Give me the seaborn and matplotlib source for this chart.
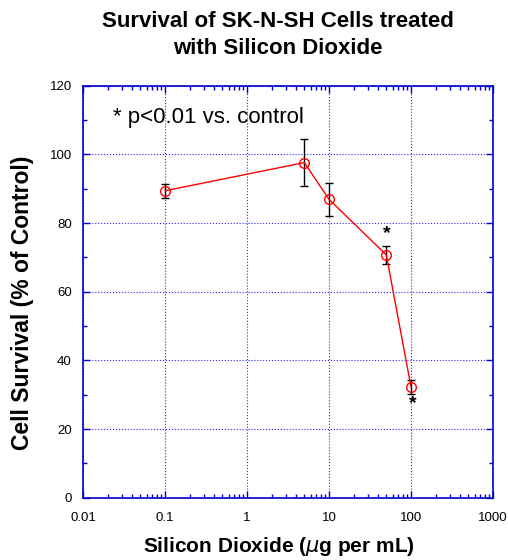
import pandas as pd
import numpy as np
import matplotlib
matplotlib.use('Agg')
import matplotlib.pyplot as plt
import seaborn as sns
from matplotlib.ticker import LogLocator, MultipleLocator, NullFormatter, FixedFormatter, FixedLocator

# 数据
dose = [0.1, 5, 10, 50, 100]
survival = [89.4, 97.6, 86.9, 70.7, 32.3]
err = [2.0, 6.9, 4.8, 2.6, 2.0]
x_ticks = [0.01, 0.1, 1, 10, 100, 1000]
x_tick_labels = ['0.01', '0.1', '1', '10', '100', '1000']

df = pd.DataFrame({'dose': dose, 'survival': survival, 'err': err})

sns.set_style('white')
plt.rcParams['font.family'] = ['Liberation Sans', 'DejaVu Sans']
plt.rcParams['text.color'] = 'black'
plt.rcParams['axes.labelcolor'] = 'black'

fig = plt.figure(figsize=(5.08, 5.6), dpi=100)
ax = fig.add_axes([83 / 508, 1 - 497.7 / 560, 410 / 508, 412 / 560])

blue = '#0000cc'
grid_blue = '#2a2aff'

# 误差线
ax.errorbar(df['dose'], df['survival'], yerr=df['err'], fmt='none',
            ecolor='black', elinewidth=1, capsize=3, capthick=1, zorder=2)
# 折线 + 空心圆点
sns.lineplot(data=df, x='dose', y='survival', ax=ax, color='red', lw=1,
             marker='o', markersize=7, markerfacecolor='none',
             markeredgecolor='red', markeredgewidth=1, zorder=3)

ax.set_xscale('log')
ax.set_xlim(0.01, 1000)
ax.set_ylim(0, 120)

ax.xaxis.set_major_locator(FixedLocator(x_ticks))
ax.xaxis.set_major_formatter(FixedFormatter(x_tick_labels))
ax.xaxis.set_minor_locator(LogLocator(base=10, subs=np.arange(2, 10)))
ax.xaxis.set_minor_formatter(NullFormatter())
ax.yaxis.set_major_locator(MultipleLocator(20))
ax.yaxis.set_minor_locator(MultipleLocator(10))

ax.grid(True, which='major', color=grid_blue, linestyle=':', linewidth=0.8)
ax.xaxis.grid(False, which='minor')
for s in ax.spines.values():
    s.set_color(blue)
    s.set_linewidth(1.2)
ax.tick_params(which='both', direction='in', color=blue, top=True, right=True,
               bottom=True, left=True, labelsize=9.5, labelcolor='black')
ax.tick_params(axis='x', pad=10)
ax.tick_params(axis='y', pad=8)
ax.tick_params(which='major', length=5, width=1)
ax.tick_params(which='minor', length=3, width=1)

# 显著性标记
ax.text(50, 77, '*', ha='center', va='center', fontsize=14, fontweight='bold')
ax.text(104, 27.5, '*', ha='center', va='center', fontsize=14, fontweight='bold')
ax.text(0.0235, 110.8, '* p<0.01 vs. control', ha='left', va='center', fontsize=16)

ax.set_xlabel(r'Silicon Dioxide ($\mu$g per mL)', fontsize=15, fontweight='bold')
ax.set_ylabel('Cell Survival (% of Control)', fontsize=16.5, fontweight='bold')
ax.xaxis.set_label_coords(0.478, -0.091)
ax.yaxis.set_label_coords(-0.12, 0.473)

fig.text(0.547, 0.9375, 'Survival of SK-N-SH Cells treated\nwith Silicon Dioxide',
         ha='center', va='center', fontsize=16, fontweight='bold', linespacing=1.4)

plt.savefig('out.png', dpi=100)
